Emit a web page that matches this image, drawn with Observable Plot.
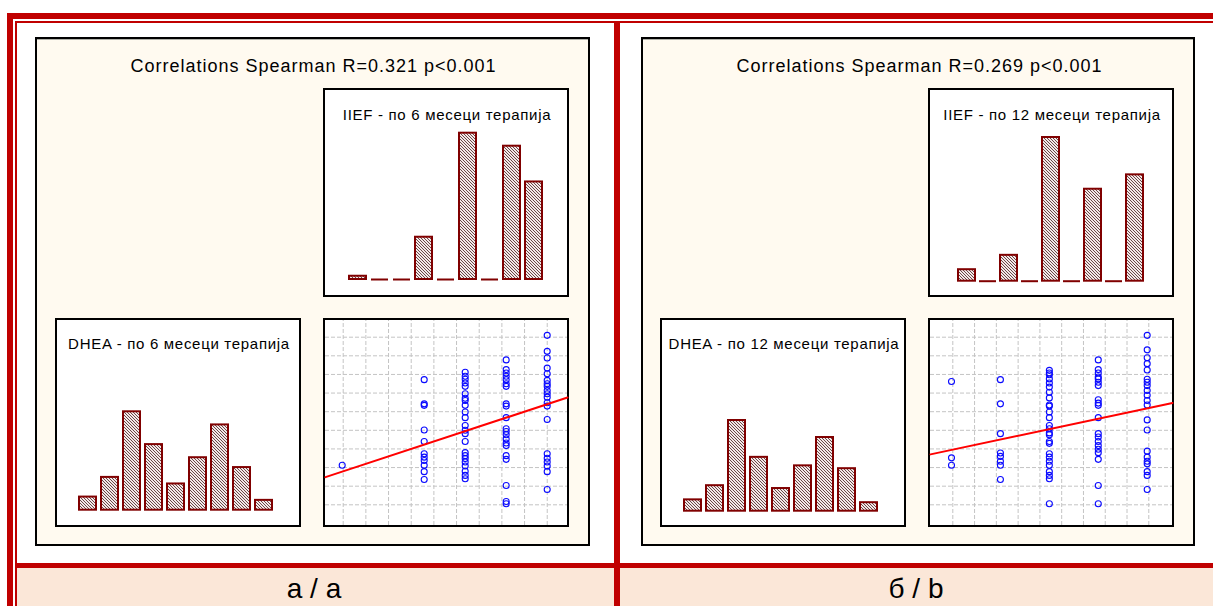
<!DOCTYPE html>
<html><head><meta charset="utf-8">
<script src="https://cdn.jsdelivr.net/npm/d3@7"></script>
<script src="https://cdn.jsdelivr.net/npm/@observablehq/plot@0.6"></script>
<style>
body{margin:0;background:#fff;}
#page{position:relative;width:1213px;height:606px;overflow:hidden;font-family:"Liberation Sans",Arial,sans-serif;background:#fff;}
.r{position:absolute;background:#c00000;}
.box{position:absolute;box-sizing:border-box;border:2px solid #000;}
.main{background:#fffaf0;box-shadow:inset 0 1px 0 #b0b0a8;}
.sub{background:#fff;}
.t{position:absolute;white-space:nowrap;line-height:1;color:#000;transform:translateX(-50%);}
</style></head><body>
<svg width="0" height="0" style="position:absolute">
<defs><pattern id="hatch" patternUnits="userSpaceOnUse" width="3" height="3">
<rect width="3" height="3" fill="#f3e8e8"/>
<path d="M-1,-1L4,4M-1,2L1,4M2,-1L4,1" stroke="#5a3434" stroke-width="0.9"/>
</pattern></defs></svg>
<div id="page"></div>
<script>
// ---------- data ----------
const titles = ["Correlations Spearman R=0.321 p<0.001", "Correlations Spearman R=0.269 p<0.001"];
const iiefTitles = ["IIEF - по 6 месеци терапија", "IIEF - по 12 месеци терапија"];
const dheaTitles = ["DHEA - по 6 месеци терапија", "DHEA - по 12 месеци терапија"];
const panelLabels = ["а / a", "б / b"];

const bins = ["1","2","3","4","5","6","7","8","9"];
const dheaCountsA = [4, 10, 30, 20, 8, 16, 26, 13, 3];
const iiefCountsA = [1, 0, 0, 13, 0, 45, 0, 41, 30];
const dheaCountsB = [4, 9, 32, 19, 8, 16, 26, 15, 3];
const iiefCountsB = [4, 0, 9, 0, 50, 0, 32, 0, 37];

// scatter (a): IIEF category -> DHEA values
const iiefCatsA = [1, 3, 4, 5, 6];
const dheaA = [
  [156],
  [386, 321, 317, 251, 220, 187, 178, 169, 156, 139, 118],
  [406, 395, 387, 377, 368, 348, 336, 330, 317, 299, 284, 263, 250, 241, 220, 190, 182, 174, 165, 154, 140, 129, 120],
  [439, 413, 404, 395, 386, 375, 368, 321, 315, 284, 254, 247, 238, 227, 216, 209, 182, 172, 102, 59, 53],
  [505, 462, 444, 417, 402, 384, 375, 368, 357, 348, 339, 324, 315, 279, 187, 175, 165, 154, 139, 91]
];
// scatter (b)
const iiefCatsB = [1, 2, 3, 4, 5];
const dheaB = [
  [381, 176, 156],
  [386, 321, 241, 189, 180, 167, 156, 118],
  [411, 404, 399, 388, 377, 366, 352, 337, 318, 315, 299, 284, 263, 254, 243, 238, 220, 215, 187, 178, 167, 156, 139, 129, 120, 53],
  [439, 413, 404, 393, 388, 379, 370, 332, 323, 317, 284, 241, 232, 220, 209, 199, 190, 172, 102, 53],
  [505, 466, 445, 429, 412, 387, 379, 370, 357, 344, 330, 318, 278, 251, 194, 178, 167, 160, 139, 129, 91]
];
// regression lines: [intercept, slope]
const fitA = [102.8, 36.23];
const fitB = [169.5, 27.88];
const gridY = [50, 100, 150, 200, 250, 300, 350, 400, 450, 500];

// ---------- layout ----------
const W = 1213, H = 606;
const page = document.getElementById("page");
function div(cls, l, t, w, h, extra) {
  const d = document.createElement("div");
  d.className = cls;
  Object.assign(d.style, {left: l + "px", top: t + "px", width: w + "px", height: h + "px"}, extra || {});
  page.appendChild(d);
  return d;
}
function text(str, cx, baseline, fs, ls) {
  const d = document.createElement("div");
  d.className = "t";
  d.textContent = str;
  Object.assign(d.style, {left: cx + "px", top: (baseline - 0.8465 * fs) + "px", fontSize: fs + "px", letterSpacing: (ls || 0) + "px"});
  page.appendChild(d);
}
function layer(svg) {
  Object.assign(svg.style, {position: "absolute", left: "0px", top: "0px", background: "transparent", overflow: "visible", pointerEvents: "none", maxWidth: "none"});
  page.appendChild(svg);
}

// red frame
div("r", 7, 13, W - 7, 6);
div("r", 7, 13, 6, H - 13);
div("r", 15, 21, W - 15, 2);
div("r", 15, 21, 2, H - 21);
div("r", 614, 21, 6, H - 21);
div("r", 15, 563, W - 15, 5);
div("", 17, 568, 597, H - 568, {position: "absolute", background: "#fbe7d8"});
div("", 620, 568, W - 620, H - 568, {position: "absolute", background: "#fbe7d8"});

// main boxes
div("box main", 35, 37, 555, 509);
div("box main", 641, 37, 554, 509);
// sub boxes
const subs = [[323, 88, 246, 209], [55, 318, 246, 209], [323, 318, 246, 209],
              [928, 88, 246, 209], [660, 318, 246, 209], [928, 318, 246, 209]];
subs.forEach(([l, t, w, h]) => div("box sub", l, t, w, h));

// texts
text(titles[0], 313.5, 72, 18, 1);
text(titles[1], 919.5, 72, 18, 1);
text(iiefTitles[0], 447, 120, 15, 0.7);
text(dheaTitles[0], 179, 349, 15, 0.7);
text(iiefTitles[1], 1052, 120, 15, 0.7);
text(dheaTitles[1], 784, 349, 15, 0.7);
text(panelLabels[0], 314, 599, 28, 0);
text(panelLabels[1], 916, 599, 28, 0);

// ---------- charts ----------
function hist(counts, o) {
  const data = bins.map((b, i) => ({bin: b, n: counts[i]}));
  return Plot.plot({
    width: W, height: H, margin: 0,
    x: {type: "band", domain: bins, range: [o.r0, o.r1], padding: o.pad, axis: null},
    y: {domain: [0, d3.max(counts)], range: [o.base, o.top], axis: null},
    marks: [
      Plot.barY(data.filter(d => d.n > 0), {x: "bin", y: "n", fill: "url(#hatch)", stroke: "#800000", strokeWidth: 2}),
      Plot.tickY(data.filter(d => d.n === 0), {x: "bin", y: 0, stroke: "#800000", strokeWidth: 2})
    ]
  });
}
function scatter(cats, vals, fit, o) {
  const pts = cats.flatMap((c, i) => vals[i].map(v => ({iief: c, dhea: v})));
  const xs = d3.scaleLinear().domain(o.xr).range(o.xd);
  const ys = d3.scaleLinear().domain(o.yr).range(o.yd);
  const xLo = xs(o.inner[0]), xHi = xs(o.inner[1]);
  const yLo = ys(o.inner[3]), yHi = ys(o.inner[2]);
  const gx = d3.range(10).map(k => o.g0 + k * o.gs);
  const line = [xLo, xHi].map(x => ({iief: x, dhea: fit[0] + fit[1] * x}));
  return Plot.plot({
    width: W, height: H, margin: 0,
    x: {domain: o.xd, range: o.xr, axis: null},
    y: {domain: o.yd, range: o.yr, axis: null},
    marks: [
      Plot.ruleX(gx, {x: d => d, y1: yLo, y2: yHi, stroke: "#c4c4c4", strokeDasharray: "4,2"}),
      Plot.ruleY(gridY, {y: d => d, x1: xLo, x2: xHi, stroke: "#c4c4c4", strokeDasharray: "4,2"}),
      Plot.dot(pts, {x: "iief", y: "dhea", r: 3, stroke: "#0a0aff", fill: "none", strokeWidth: 1.1}),
      Plot.line(line, {x: "iief", y: "dhea", stroke: "#ff0000", strokeWidth: 2})
    ]
  });
}

layer(hist(dheaCountsA, {r0: 70.9, r1: 279.8, pad: 0.227, base: 509.7, top: 411.3}));
layer(hist(iiefCountsA, {r0: 340.8, r1: 550.2, pad: 0.229, base: 279, top: 132.7}));
layer(hist(dheaCountsB, {r0: 676.5, r1: 884.2, pad: 0.231, base: 510.7, top: 420}));
layer(hist(iiefCountsB, {r0: 950.4, r1: 1149.6, pad: 0.214, base: 280.7, top: 137}));
layer(scatter(iiefCatsA, dheaA, fitA, {xd: [1, 6], xr: [341.7, 546.7], yd: [50, 500], yr: [504.3, 336.7], inner: [325, 567, 320, 525], g0: 1.0244, gs: 0.5529}));
layer(scatter(iiefCatsB, dheaB, fitB, {xd: [1, 5], xr: [951, 1146.7], yd: [50, 500], yr: [504.3, 336.7], inner: [930, 1172, 320, 525], g0: 1.0266, gs: 0.4451}));
</script>
</body></html>
